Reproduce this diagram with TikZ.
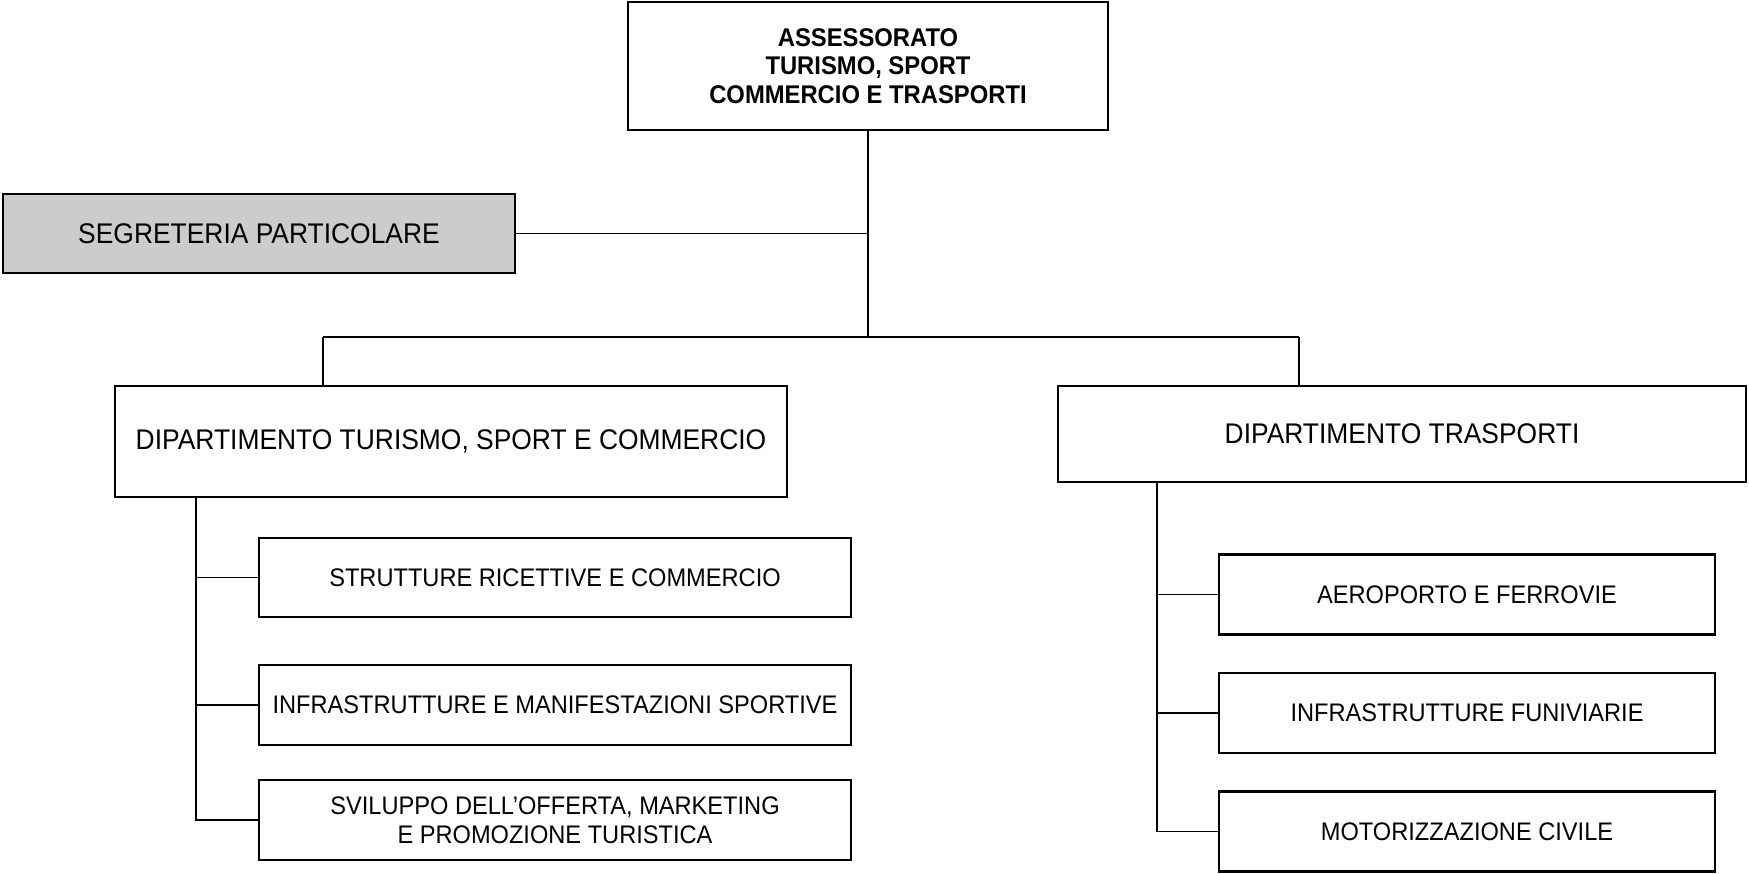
\documentclass[tikz,border=0pt]{standalone}
\usepackage{fontspec}
\setmainfont{Liberation Sans}[FakeStretch=0.93]
\begin{document}
\begin{tikzpicture}[x=0.5pt,y=-0.5pt,
  box/.style={draw=black,line width=1.25pt,fill=white,inner sep=0pt,align=center},
  bigtxt/.style={font=\fontsize{14.2pt}{16pt}\selectfont},
  smalltxt/.style={font=\fontsize{12.7pt}{14.5pt}\selectfont},
  headtxt/.style={font=\fontsize{12.8pt}{14.2pt}\selectfont\bfseries},
  conn/.style={draw=black,line width=0.75pt}]
\useasboundingbox (0,0) rectangle (1749,873);
% nodes
\node[box,headtxt,minimum width=240pt,minimum height=64pt] (top) at (868,66)
  {ASSESSORATO\\TURISMO, SPORT\\COMMERCIO E TRASPORTI};
\node[box,bigtxt,fill=black!20,minimum width=256pt,minimum height=39.5pt] (seg) at (259,233.5)
  {SEGRETERIA PARTICOLARE};
\node[box,bigtxt,minimum width=336pt,minimum height=55.5pt] (ldept) at (451,441.5)
  {DIPARTIMENTO TURISMO, SPORT E COMMERCIO};
\node[box,bigtxt,minimum width=344pt,minimum height=48pt] (rdept) at (1402,434)
  {DIPARTIMENTO TRASPORTI};
\node[box,smalltxt,minimum width=296pt,minimum height=39.5pt] (c1) at (555,577.5)
  {STRUTTURE RICETTIVE E COMMERCIO};
\node[box,smalltxt,minimum width=296pt,minimum height=40pt] (c2) at (555,705)
  {INFRASTRUTTURE E MANIFESTAZIONI SPORTIVE};
\node[box,smalltxt,minimum width=296pt,minimum height=40pt] (c3) at (555,820)
  {SVILUPPO DELL’OFFERTA, MARKETING\\E PROMOZIONE TURISTICA};
\node[box,smalltxt,minimum width=248pt,minimum height=40pt] (r1) at (1467,594.5)
  {AEROPORTO E FERROVIE};
\node[box,smalltxt,minimum width=248pt,minimum height=40pt] (r2) at (1467,713)
  {INFRASTRUTTURE FUNIVIARIE};
\node[box,smalltxt,minimum width=248pt,minimum height=40pt] (r3) at (1467,831.5)
  {MOTORIZZAZIONE CIVILE};
% connector coordinates
\coordinate (bl) at (323,337);
\coordinate (br) at (1299,337);
\coordinate (ls) at (196,0);
\coordinate (rs) at (1157,0);
% connectors
\draw[conn] (top.south) -- (top.south |- bl);
\draw[conn] (seg.east) -- (seg.east -| top.south);
\draw[conn] (bl) -- (br);
\draw[conn] (bl) -- (bl |- ldept.north);
\draw[conn] (br) -- (br |- rdept.north);
\draw[conn] (ls |- ldept.south) |- (c3.west);
\draw[conn] (ls |- c1.west) -- (c1.west);
\draw[conn] (ls |- c2.west) -- (c2.west);
\draw[conn] (rs |- rdept.south) |- (r3.west);
\draw[conn] (rs |- r1.west) -- (r1.west);
\draw[conn] (rs |- r2.west) -- (r2.west);
\end{tikzpicture}
\end{document}
